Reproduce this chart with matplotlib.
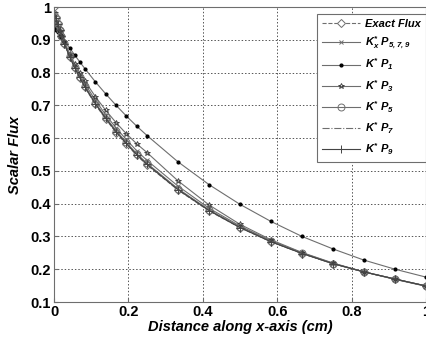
import matplotlib
matplotlib.use("Agg")
import matplotlib.pyplot as plt

plt.rcParams['font.family'] = ['Liberation Sans', 'DejaVu Sans']
plt.rcParams['mathtext.fontset'] = 'custom'
plt.rcParams['mathtext.rm'] = 'Liberation Sans:bold:italic'
plt.rcParams['mathtext.it'] = 'Liberation Sans:bold:italic'
plt.rcParams['mathtext.bf'] = 'Liberation Sans:bold:italic'

# ---------------- data ----------------
x = [0, 0.005, 0.01, 0.015, 0.02, 0.028, 0.042, 0.056, 0.069, 0.083, 0.111, 0.139,
     0.167, 0.194, 0.222, 0.25, 0.333, 0.417, 0.5, 0.583, 0.667, 0.75, 0.833, 0.917, 1.0]

exact = [1.0, 0.971, 0.950, 0.931, 0.913, 0.888, 0.848, 0.813, 0.784, 0.755, 0.703, 0.658,
         0.617, 0.582, 0.548, 0.518, 0.442, 0.378, 0.327, 0.284, 0.248, 0.217, 0.192, 0.170, 0.149]
kx_p579 = [0.970, 0.958, 0.945, 0.930, 0.915, 0.892, 0.855, 0.822, 0.794, 0.766, 0.716, 0.671,
           0.631, 0.596, 0.562, 0.532, 0.454, 0.386, 0.332, 0.287, 0.250, 0.218, 0.192, 0.170, 0.149]
p1 = [0.940, 0.930, 0.925, 0.917, 0.910, 0.897, 0.875, 0.853, 0.833, 0.812, 0.772, 0.735,
      0.700, 0.668, 0.637, 0.608, 0.528, 0.458, 0.398, 0.346, 0.300, 0.262, 0.228, 0.200, 0.176]
p3 = [0.955, 0.945, 0.935, 0.925, 0.913, 0.893, 0.858, 0.826, 0.800, 0.774, 0.727, 0.685,
      0.647, 0.614, 0.583, 0.556, 0.470, 0.396, 0.337, 0.290, 0.251, 0.219, 0.192, 0.169, 0.148]
p5 = [0.978, 0.965, 0.948, 0.930, 0.913, 0.889, 0.850, 0.816, 0.787, 0.759, 0.708, 0.663,
      0.623, 0.587, 0.553, 0.523, 0.446, 0.381, 0.329, 0.285, 0.249, 0.217, 0.192, 0.170, 0.149]
p7 = [0.982, 0.967, 0.949, 0.930, 0.913, 0.888, 0.849, 0.815, 0.786, 0.757, 0.706, 0.661,
      0.620, 0.585, 0.551, 0.521, 0.444, 0.380, 0.328, 0.285, 0.248, 0.217, 0.192, 0.170, 0.149]
p9 = [0.985, 0.968, 0.949, 0.930, 0.913, 0.888, 0.848, 0.814, 0.785, 0.756, 0.705, 0.660,
      0.619, 0.584, 0.550, 0.520, 0.443, 0.379, 0.327, 0.284, 0.248, 0.217, 0.192, 0.170, 0.149]

labels = ["Exact Flux", r"$K^{*}_{x}\ P_{5,7,9}$", r"$K^{*}\ P_{1}$", r"$K^{*}\ P_{3}$",
          r"$K^{*}\ P_{5}$", r"$K^{*}\ P_{7}$", r"$K^{*}\ P_{9}$"]

grey = '#6e6e6e'

fig = plt.figure(figsize=(4.27, 3.43), dpi=100)
ax = fig.add_axes([0.1265, 0.1195, 0.871, 0.860])

ax.plot(x, exact, linestyle='--', color=grey, lw=0.8, marker='D', ms=4,
        mfc='white', mec=grey, mew=0.7, label=labels[0])
ax.plot(x, kx_p579, linestyle='-', color=grey, lw=0.8, marker='x', ms=3,
        mec=grey, mew=0.7, label=labels[1])
ax.plot(x, p1, linestyle='-', color=grey, lw=0.8, marker='o', ms=2,
        mfc='black', mec='black', label=labels[2])
ax.plot(x, p3, linestyle='-', color=grey, lw=0.8, marker='*', ms=4,
        mfc='none', mec='#333333', mew=0.6, label=labels[3])
ax.plot(x, p5, linestyle='-', color=grey, lw=0.8, marker='o', ms=5,
        mfc='none', mec=grey, mew=0.7, label=labels[4])
ax.plot(x, p7, linestyle='-.', color=grey, lw=0.8, label=labels[5])
ax.plot(x, p9, linestyle='-', color='#444444', lw=0.8, marker='+', ms=6,
        mec='#444444', mew=0.7, label=labels[6])

ax.set_xlim(0, 1)
ax.set_ylim(0.1, 1)
ax.set_xticks([0, 0.2, 0.4, 0.6, 0.8, 1])
ax.set_xticklabels(['0', '0.2', '0.4', '0.6', '0.8', '1'])
ax.set_yticks([0.1, 0.2, 0.3, 0.4, 0.5, 0.6, 0.7, 0.8, 0.9, 1])
ax.set_yticklabels(['0.1', '0.2', '0.3', '0.4', '0.5', '0.6', '0.7', '0.8', '0.9', '1'])
ax.tick_params(direction='in', length=3, color=grey, labelsize=10.5, pad=2)
for lab in ax.get_xticklabels() + ax.get_yticklabels():
    lab.set_fontweight('bold')
ax.grid(True, linestyle=(0, (1.5, 2)), color='#555555', lw=0.7)
for s in ax.spines.values():
    s.set_color(grey)

ax.set_xlabel('Distance along x-axis (cm)', fontsize=10.5, fontweight='bold', style='italic', labelpad=1)
ax.set_ylabel('Scalar Flux', fontsize=10.5, fontweight='bold', style='italic', labelpad=6)

leg = ax.legend(loc='upper right', bbox_to_anchor=(1.0, 0.976), borderaxespad=0,
                fontsize=8, handlelength=3.4, handletextpad=0.5, labelspacing=0.5,
                borderpad=0.45, fancybox=False, framealpha=1, edgecolor=grey)
leg.get_frame().set_linewidth(0.8)
for t in leg.get_texts():
    t.set_fontweight('bold')
    t.set_fontstyle('italic')

fig.savefig('out.png', dpi=100)
